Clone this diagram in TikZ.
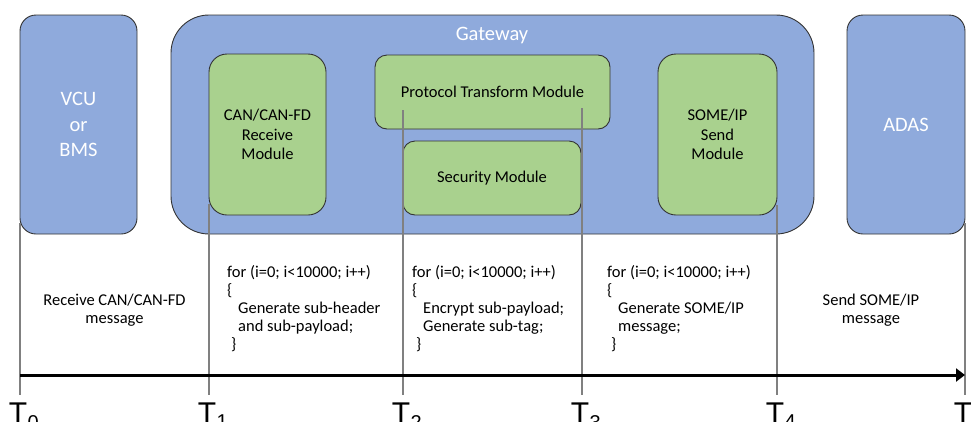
\documentclass[tikz,border=0pt]{standalone}
\usepackage{fontspec}
\setmainfont{Carlito}
\newfontfamily\tfont{Liberation Sans}
\usetikzlibrary{arrows.meta}
\definecolor{boxblue}{HTML}{8FAADC}
\definecolor{boxgreen}{HTML}{A9D18E}
\definecolor{tline}{HTML}{808080}
\begin{document}
\begin{tikzpicture}[x=1pt,y=-1pt,
  blk/.style={draw=black!80, line width=0.9pt, fill=boxblue, inner sep=0pt, align=center, text=white, font=\fontsize{20.5}{25.5}\selectfont},
  grn/.style={draw=black!80, line width=0.9pt, fill=boxgreen, inner sep=0pt, align=center, text=black, font=\fontsize{16.5}{19.5}\selectfont},
  txt/.style={inner sep=0pt, font=\fontsize{16.5}{17}\selectfont, anchor=base west},
  ctxt/.style={inner sep=0pt, font=\fontsize{16.5}{17}\selectfont, anchor=base},
  tick/.style={draw=tline, line width=2pt},
  tlab/.style={inner sep=0pt, font=\tfont\fontsize{30}{30}\selectfont, anchor=north},
  tsub/.style={inner sep=0pt, font=\tfont\fontsize{20}{20}\selectfont, anchor=north west},
]
\useasboundingbox (0,0) rectangle (971,421);
% boxes
\node[blk, rounded corners=16pt, minimum width=117pt, minimum height=219pt] (vcu) at (78.5,124.5) {VCU\\or\\BMS};
\node[blk, rounded corners=38pt, minimum width=643pt, minimum height=219pt] (gw) at (492.5,124.5) {};
\node[inner sep=0pt, text=white, font=\fontsize{20.5}{24}\selectfont] (gwl) at (492,35) {Gateway};
\node[grn, rounded corners=18pt, minimum width=117pt, minimum height=161pt] (can) at (267.5,134.5) {CAN/CAN-FD\\Receive\\Module};
\node[grn, rounded corners=12pt, minimum width=235pt, minimum height=74pt] (ptm) at (492.5,92) {Protocol Transform Module};
\node[grn, rounded corners=12pt, minimum width=178pt, minimum height=74pt] (sec) at (492,178) {Security Module};
\node[grn, rounded corners=18pt, minimum width=119pt, minimum height=161pt] (some) at (717.5,134.5) {SOME/IP\\Send\\Module};
\node[blk, rounded corners=16pt, minimum width=118pt, minimum height=219pt] (adas) at (906,124.5) {ADAS};
% time lines
\coordinate (t0a) at (20,223);  \coordinate (t0b) at (20,395);
\coordinate (t1a) at (209,204); \coordinate (t1b) at (209,395);
\coordinate (t2a) at (403,110); \coordinate (t2b) at (403,395);
\coordinate (t3a) at (582,108); \coordinate (t3b) at (582,395);
\coordinate (t4a) at (777,205); \coordinate (t4b) at (777,395);
\coordinate (t5a) at (965,223); \coordinate (t5b) at (965,395);
\foreach \k in {0,...,5} \draw[tick] (t\k a) -- (t\k b);
% axis
\coordinate (ax0) at (20,375);
\coordinate (ax1) at (965,375);
\draw[line width=3pt, -{Triangle[length=9pt,width=13pt]}] (ax0) -- (ax1);
% T labels
\foreach \k/\xx in {0/18,1/207,2/401,3/580,4/775,5/963}{
  \node[tlab] (T\k) at (\xx,403) {T};
  \node[tsub] (T\k s) at ([yshift=-12pt]T\k.north east) {\k};
}
% side texts
\node[ctxt] (rx1) at (114.5,305) {Receive CAN/CAN-FD};
\node[ctxt] (rx2) at (114.5,323) {message};
\node[ctxt] (tx1) at (871,305) {Send SOME/IP};
\node[ctxt] (tx2) at (871,323) {message};
% code blocks
\foreach \t [count=\i from 0] in {{for (i=0; i<10000; i++)},{\{},{\hspace*{11pt}Generate sub-header},{\hspace*{11pt}and sub-payload;},{\hspace*{4pt}\}}}
  \node[txt] (ca\i) at (227,{277+18*\i}) {\t};
\foreach \t [count=\i from 0] in {{for (i=0; i<10000; i++)},{\{},{\hspace*{11pt}Encrypt sub-payload;},{\hspace*{11pt}Generate sub-tag;},{\hspace*{4pt}\}}}
  \node[txt] (cb\i) at (412,{277+18*\i}) {\t};
\foreach \t [count=\i from 0] in {{for (i=0; i<10000; i++)},{\{},{\hspace*{11pt}Generate SOME/IP},{\hspace*{11pt}message;},{\hspace*{4pt}\}}}
  \node[txt] (cc\i) at (607,{277+18*\i}) {\t};
\end{tikzpicture}
\end{document}
